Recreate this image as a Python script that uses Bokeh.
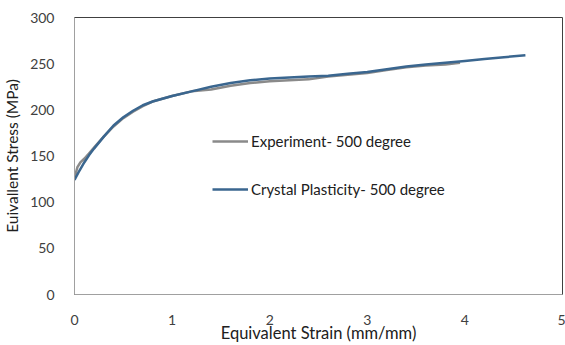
from bokeh.plotting import figure
from bokeh.models import Range1d, Legend, LegendItem, FixedTicker
from bokeh.embed import file_html
from bokeh.resources import INLINE

# Data
exp_strain = [0, 0.03, 0.06, 0.1, 0.15, 0.2, 0.3, 0.4, 0.5, 0.6, 0.7, 0.8, 0.9, 1.0,
              1.2, 1.4, 1.6, 1.8, 2.0, 2.2, 2.4, 2.6, 2.8, 3.0, 3.2, 3.4, 3.6, 3.8, 3.95]
exp_stress = [126, 138, 143, 147, 153, 159, 171, 182, 191, 198, 204, 209, 212, 215,
              220, 222, 226, 229, 231, 232, 233, 236, 238, 240, 243, 246, 248, 249, 251]

cp_strain = [0, 0.05, 0.1, 0.15, 0.2, 0.3, 0.4, 0.5, 0.6, 0.7, 0.8, 0.9, 1.0, 1.2, 1.4,
             1.6, 1.8, 2.0, 2.2, 2.4, 2.6, 2.8, 3.0, 3.2, 3.4, 3.6, 3.8, 4.0, 4.2, 4.4, 4.62]
cp_stress = [124, 134, 143, 151, 158, 171, 183, 192, 199, 205, 209, 212, 215, 220, 225,
             229, 232, 234, 235, 236, 237, 239, 241, 244, 247, 249, 251, 253, 255, 257, 259]

x_ticks = [0, 1, 2, 3, 4, 5]
y_ticks = [0, 50, 100, 150, 200, 250, 300]

FONT = "Lato"
TXT = "#404040"

p = figure(width=565, height=345, output_backend="svg", toolbar_location=None,
           x_range=Range1d(0, 5), y_range=Range1d(0, 300),
           min_border_left=72, min_border_right=3, min_border_top=17, min_border_bottom=47)

p.grid.visible = False
p.outline_line_color = "#404040"
p.outline_line_width = 1

for ax in (p.xaxis[0], p.yaxis[0]):
    ax.axis_line_color = "#a0a0a0"
    ax.major_tick_line_color = None
    ax.minor_tick_line_color = None
    ax.major_label_text_font = FONT
    ax.major_label_text_font_size = "14px"
    ax.major_label_text_color = TXT
    ax.axis_label_text_font = FONT
    ax.axis_label_text_font_style = "normal"
    ax.axis_label_text_color = "#202020"

p.xaxis.axis_label_text_font_size = "16.5px"
p.yaxis.axis_label_text_font_size = "15.5px"
p.xaxis.ticker = FixedTicker(ticks=x_ticks)
p.yaxis.ticker = FixedTicker(ticks=y_ticks)
p.xaxis.major_label_standoff = 14
p.yaxis.major_label_standoff = 14
p.xaxis.axis_label = "Equivalent Strain (mm/mm)"
p.yaxis.axis_label = "Euivallent Stress (MPa)"
p.xaxis.axis_label_standoff = -5
p.yaxis.axis_label_standoff = 6

r_exp = p.line(exp_strain, exp_stress, line_color="#8a8a8a", line_width=2.5)
r_cp = p.line(cp_strain, cp_stress, line_color="#3a668f", line_width=2.5)

legend = Legend(items=[LegendItem(label="Experiment- 500 degree", renderers=[r_exp]),
                       LegendItem(label="Crystal Plasticity- 500 degree", renderers=[r_cp])],
                location=(138, 95), orientation="vertical")
legend.border_line_color = None
legend.background_fill_alpha = 0
legend.padding = 0
legend.margin = 0
legend.spacing = 28
legend.glyph_width = 36
legend.glyph_height = 20
legend.label_height = 20
legend.label_standoff = 3
legend.label_text_font = FONT
legend.label_text_font_size = "15px"
legend.label_text_color = "#202020"
p.add_layout(legend, "center")

open("out.html", "w").write(file_html(p, INLINE))
